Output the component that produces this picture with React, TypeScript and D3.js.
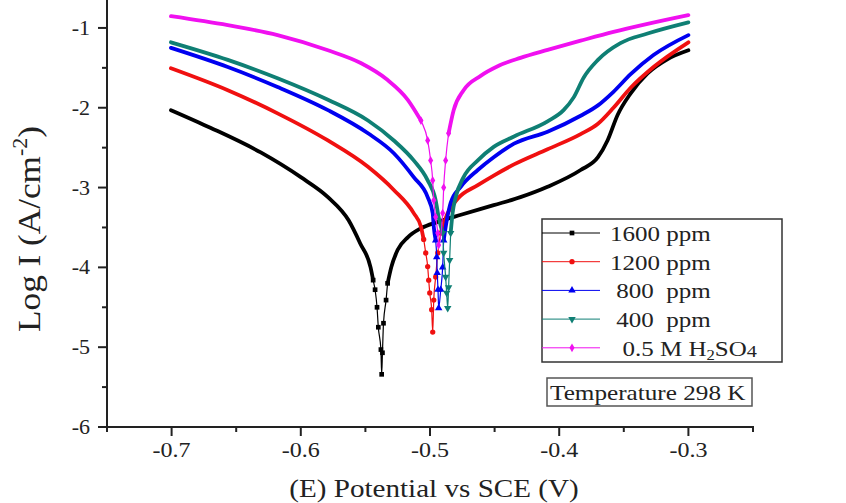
import React from "react";
import * as d3 from "d3";

// potential (V vs SCE) and log current
const E_1600 = [-0.7005, -0.67, -0.631, -0.6, -0.579, -0.563, -0.554, -0.546, -0.544, -0.5425, -0.541, -0.54, -0.538, -0.5374, -0.5368, -0.536, -0.534, -0.5328, -0.53, -0.525, -0.517, -0.507, -0.494, -0.476, -0.4507, -0.43, -0.409, -0.3834, -0.37, -0.3626, -0.3548, -0.3447, -0.3316, -0.316, -0.3];
const L_1600 = [-2.03, -2.25, -2.56, -2.87, -3.12, -3.41, -3.7, -4.0, -4.16, -4.28, -4.5, -4.75, -5.03, -5.34, -5.07, -4.7, -4.41, -4.2, -4.0, -3.78, -3.62, -3.51, -3.43, -3.34, -3.22, -3.12, -2.99, -2.78, -2.62, -2.41, -2.09, -1.82, -1.57, -1.39, -1.28];

const E_1200 = [-0.7005, -0.6565, -0.618, -0.579, -0.548, -0.528, -0.5126, -0.507, -0.5049, -0.5033, -0.5018, -0.501, -0.5002, -0.4987, -0.4979, -0.4971, -0.4956, -0.494, -0.4917, -0.4863, -0.4786, -0.463, -0.4507, -0.435, -0.409, -0.3834, -0.37, -0.358, -0.3447, -0.327, -0.3];
const L_1200 = [-1.505, -1.78, -2.07, -2.41, -2.74, -3.03, -3.32, -3.49, -3.65, -3.82, -3.99, -4.16, -4.32, -4.53, -4.81, -4.41, -4.12, -3.82, -3.57, -3.32, -3.14, -2.97, -2.85, -2.71, -2.52, -2.33, -2.2, -2.0, -1.75, -1.49, -1.18];

const E_800 = [-0.7005, -0.6565, -0.618, -0.579, -0.548, -0.528, -0.5126, -0.5018, -0.4979, -0.4971, -0.4956, -0.4948, -0.4944, -0.4938, -0.4933, -0.4917, -0.4902, -0.4894, -0.487, -0.484, -0.4762, -0.463, -0.4507, -0.435, -0.409, -0.3834, -0.37, -0.358, -0.3447, -0.327, -0.3];
const L_800 = [-1.25, -1.49, -1.74, -2.03, -2.32, -2.57, -2.87, -3.12, -3.32, -3.49, -3.66, -3.87, -4.07, -4.28, -4.51, -4.28, -4.0, -3.66, -3.41, -3.19, -2.99, -2.78, -2.62, -2.45, -2.3, -2.1, -1.97, -1.8, -1.58, -1.34, -1.09];

const E_400 = [-0.7005, -0.6565, -0.618, -0.579, -0.548, -0.528, -0.5126, -0.5018, -0.4956, -0.4933, -0.4902, -0.4894, -0.4879, -0.4871, -0.4863, -0.4856, -0.4848, -0.484, -0.4825, -0.4801, -0.474, -0.463, -0.4507, -0.435, -0.409, -0.3966, -0.3888, -0.381, -0.37, -0.3526, -0.3316, -0.3];
const L_400 = [-1.18, -1.4, -1.63, -1.9, -2.16, -2.41, -2.66, -2.91, -3.16, -3.37, -3.57, -3.82, -4.12, -4.32, -4.51, -4.25, -3.91, -3.57, -3.32, -3.12, -2.87, -2.66, -2.49, -2.36, -2.17, -2.03, -1.87, -1.62, -1.4, -1.19, -1.07, -0.93];

const E_ACID = [-0.7005, -0.6565, -0.618, -0.579, -0.5536, -0.533, -0.5172, -0.507, -0.5018, -0.4995, -0.4979, -0.4971, -0.4956, -0.494, -0.4933, -0.4902, -0.4894, -0.4879, -0.4856, -0.4817, -0.474, -0.4608, -0.4476, -0.43, -0.409, -0.3834, -0.358, -0.3316, -0.3];
const L_ACID = [-0.853, -0.966, -1.09, -1.28, -1.44, -1.65, -1.9, -2.16, -2.41, -2.66, -2.91, -3.16, -3.37, -3.57, -3.72, -3.32, -3.0, -2.66, -2.32, -2.03, -1.78, -1.6, -1.48, -1.375, -1.275, -1.16, -1.05, -0.95, -0.84];

const SERIES_NAMES = ["1600 ppm", "1200 ppm", " 800  ppm", " 400  ppm", "0.5 M H2SO4"];

const X_TICKS = [-0.7, -0.6, -0.5, -0.4, -0.3];
const X_MINOR = [-0.75, -0.65, -0.55, -0.45, -0.35, -0.25];
const Y_TICKS = [-6, -5, -4, -3, -2, -1];
const Y_MINOR = [-5.5, -4.5, -3.5, -2.5, -1.5];

const FONT = "'Liberation Serif', 'Times New Roman', serif";

const series = [
  { name: SERIES_NAMES[0], e: E_1600, l: L_1600, color: "#000000", symbol: d3.symbolSquare, size: 22, cut: -4.0 },
  { name: SERIES_NAMES[1], e: E_1200, l: L_1200, color: "#f01010", symbol: d3.symbolCircle, size: 22, cut: -3.5 },
  { name: SERIES_NAMES[2], e: E_800, l: L_800, color: "#0000f0", symbol: d3.symbolTriangle, size: 24, cut: -3.5 },
  { name: SERIES_NAMES[3], e: E_400, l: L_400, color: "#0f7f74", symbol: d3.symbolTriangle, size: 24, cut: -3.5, flip: true },
  { name: SERIES_NAMES[4], e: E_ACID, l: L_ACID, color: "#f010f0", symbol: d3.symbolDiamond, size: 22, cut: -2.1 },
];

export default function App() {
  const width = 846;
  const height = 503;

  const x = d3.scaleLinear().domain([-0.75, -0.25]).range([107, 753]);
  const y = d3.scaleLinear().domain([-6, -0.65]).range([427, 0]);

  const line = d3
    .line<[number, number]>()
    .x((d) => x(d[0]))
    .y((d) => y(d[1]))
    .curve(d3.curveMonotoneX);

  const axisColor = "#222";

  return (
    <svg width={width} height={height} style={{ position: "absolute", left: 0, top: 0, background: "#fff" }}>
      {/* curves */}
      {series.map((s) => {
        const pts: [number, number][] = s.e.map((e, i) => [e, s.l[i]]);
        const iMin = d3.minIndex(s.l);
        // steep part around the cusp is drawn thin with visible markers
        let leftEnd = 0;
        while (leftEnd + 1 < iMin && s.l[leftEnd + 1] >= s.cut) leftEnd++;
        let rightStart = s.l.length - 1;
        while (rightStart - 1 > iMin && s.l[rightStart - 1] >= s.cut) rightStart--;
        const sym = d3.symbol().type(s.symbol).size(s.size)();
        return (
          <g key={s.name}>
            <path d={line(pts) ?? ""} fill="none" stroke={s.color} strokeWidth={1.2} />
            <path d={line(pts.slice(0, leftEnd + 2)) ?? ""} fill="none" stroke={s.color} strokeWidth={3.8} strokeLinecap="round" />
            <path d={line(pts.slice(rightStart - 1)) ?? ""} fill="none" stroke={s.color} strokeWidth={3.8} strokeLinecap="round" />
            {pts.map((p, i) =>
              i > leftEnd && i < rightStart ? (
                <path
                  key={i}
                  d={sym ?? ""}
                  fill={s.color}
                  transform={`translate(${x(p[0])},${y(p[1])})${s.flip ? " rotate(180)" : ""}`}
                />
              ) : null
            )}
          </g>
        );
      })}

      {/* axes */}
      <line x1={107} x2={107} y1={0} y2={428} stroke={axisColor} strokeWidth={2} />
      <line x1={106} x2={754} y1={427} y2={427} stroke={axisColor} strokeWidth={2} />
      {Y_TICKS.map((t) => (
        <g key={t}>
          <line x1={98} x2={107} y1={y(t)} y2={y(t)} stroke={axisColor} strokeWidth={2} />
          <text
            transform={`translate(90,${y(t) + 7}) scale(1.1,1)`}
            textAnchor="end"
            fontFamily={FONT}
            fontSize={20}
            fill="#222"
          >
            {String(t)}
          </text>
        </g>
      ))}
      {Y_MINOR.map((t) => (
        <line key={t} x1={102} x2={107} y1={y(t)} y2={y(t)} stroke={axisColor} strokeWidth={2} />
      ))}
      {X_TICKS.map((t) => (
        <g key={t}>
          <line x1={x(t)} x2={x(t)} y1={427} y2={436} stroke={axisColor} strokeWidth={2} />
          <text
            transform={`translate(${x(t)},457) scale(1.2,1)`}
            textAnchor="middle"
            fontFamily={FONT}
            fontSize={20}
            fill="#222"
          >
            {String(t)}
          </text>
        </g>
      ))}
      {X_MINOR.map((t) => (
        <line key={t} x1={x(t)} x2={x(t)} y1={427} y2={432} stroke={axisColor} strokeWidth={2} />
      ))}

      {/* axis titles */}
      <text
        transform="translate(434,497) scale(1.12,1)"
        textAnchor="middle"
        fontFamily={FONT}
        fontSize={26}
        fill="#222"
      >
        (E) Potential vs SCE (V)
      </text>
      <text
        transform="translate(40,229) rotate(-90) scale(1.1,1)"
        textAnchor="middle"
        fontFamily={FONT}
        fontSize={32}
        fill="#222"
      >
        Log I (A/cm
        <tspan fontSize={20} dy={-13}>-2</tspan>
        <tspan dy={13}>)</tspan>
      </text>

      {/* legend */}
      <rect x={542} y={219} width={240} height={143} fill="#fff" stroke="#333" strokeWidth={1.5} />
      {series.map((s, i) => {
        const ly = 233 + i * 28.7;
        const sym = d3.symbol().type(s.symbol).size(s.size)();
        return (
          <g key={s.name}>
            <line x1={542} x2={600} y1={ly} y2={ly} stroke={s.color} strokeWidth={1} />
            <path d={sym ?? ""} fill={s.color} transform={`translate(572,${ly})${s.flip ? " rotate(180)" : ""}`} />
            <text
              transform={`translate(610,${ly + 8}) scale(1.19,1)`}
              fontFamily={FONT}
              fontSize={21}
              fill="#222"
              style={{ whiteSpace: "pre" }}
            >
              {i === 4 ? (
                <>
                  {"  0.5 M H"}
                  <tspan fontSize={14} dy={4}>2</tspan>
                  <tspan dy={-4}>SO</tspan>
                  <tspan fontSize={17} dy={1}>4</tspan>
                </>
              ) : (
                s.name
              )}
            </text>
          </g>
        );
      })}

      {/* temperature note */}
      <rect x={547} y={378} width={205} height={28} fill="#fff" stroke="#555" strokeWidth={1.5} />
      <text transform="translate(550,400) scale(1.2,1)" fontFamily={FONT} fontSize={21} fill="#222">
        Temperature 298 K
      </text>
    </svg>
  );
}
